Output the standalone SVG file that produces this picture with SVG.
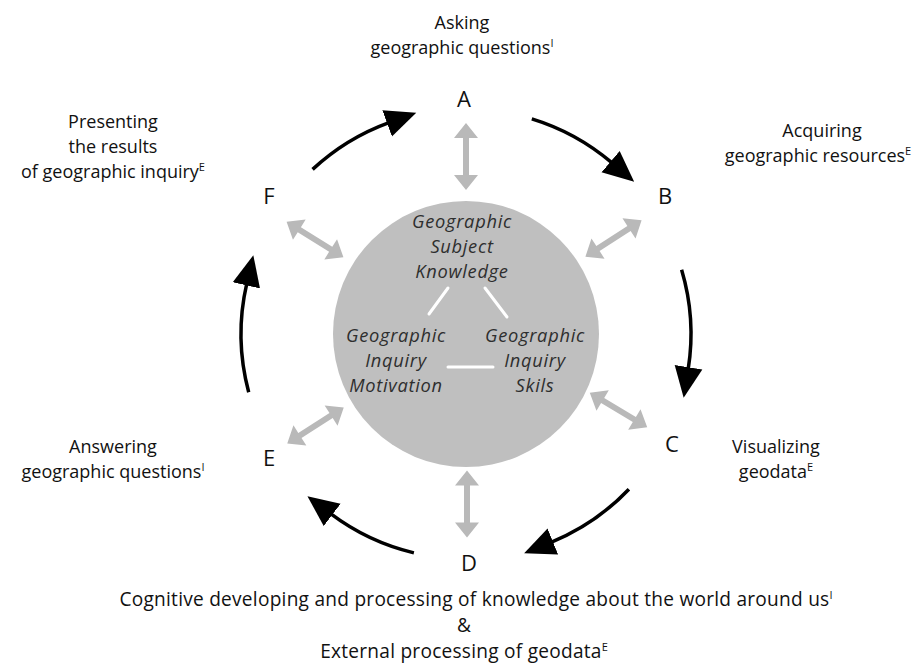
<svg xmlns="http://www.w3.org/2000/svg" xmlns:xlink="http://www.w3.org/1999/xlink" width="924" height="665" viewBox="0 0 924 665">
<defs>
<style>
.lbl{font-family:"Open Sans","Noto Sans","Liberation Sans",sans-serif;font-size:18px;fill:#111;text-anchor:middle}
.big{font-size:19.1px;letter-spacing:0.25px}
.let{font-family:"Open Sans","Noto Sans","Liberation Sans",sans-serif;font-size:22px;fill:#111;text-anchor:middle}
.in{font-family:"Open Sans","Noto Sans","Liberation Sans",sans-serif;font-size:18.3px;letter-spacing:0.7px;font-style:italic;fill:#2e2e2e;text-anchor:middle}
.sup{font-size:11px;letter-spacing:0}
.arc{fill:none;stroke:#000;stroke-width:3.5;marker-end:url(#ah)}
.dbl{fill:#b9b9b9}
.wl{stroke:#fff;stroke-width:3;stroke-linecap:round}
</style>
<marker id="ah" markerUnits="userSpaceOnUse" markerWidth="32" markerHeight="30" viewBox="0 0 32 30" refX="2" refY="15" orient="auto">
<path d="M0,1 L31,15 L0,29 Z" fill="#000"/>
</marker>
<path id="dbl" d="M-33.5,0 L-18.5,-12 L-18.5,-3 L18.5,-3 L18.5,-12 L33.5,0 L18.5,12 L18.5,3 L-18.5,3 L-18.5,12 Z"/>
</defs>
<rect width="924" height="665" fill="#fff"/>

<g id="core">
<circle cx="466" cy="334" r="133" fill="#bfbfbf"/>
<text class="in" x="462" y="228">Geographic</text>
<text class="in" x="462" y="253">Subject</text>
<text class="in" x="462" y="278">Knowledge</text>
<text class="in" x="396" y="342">Geographic</text>
<text class="in" x="396" y="367">Inquiry</text>
<text class="in" x="396" y="392">Motivation</text>
<text class="in" x="535" y="342">Geographic</text>
<text class="in" x="535" y="367">Inquiry</text>
<text class="in" x="535" y="392">Skils</text>
<line class="wl" x1="448" y1="288" x2="429" y2="314"/>
<line class="wl" x1="485" y1="288" x2="507" y2="317"/>
<line class="wl" x1="448" y1="367" x2="493" y2="367"/>
</g>

<g id="nodeA">
<text class="let" x="464" y="107">A</text>
<text class="lbl" x="462" y="29">Asking</text>
<text class="lbl" x="462" y="54">geographic questions<tspan class="sup" dy="-7">I</tspan></text>
</g>
<g id="nodeB">
<text class="let" x="665" y="204">B</text>
<text class="lbl" x="822" y="137">Acquiring</text>
<text class="lbl" x="818" y="162">geographic resources<tspan class="sup" dy="-7">E</tspan></text>
</g>
<g id="nodeC">
<text class="let" x="672" y="452">C</text>
<text class="lbl" x="776" y="453">Visualizing</text>
<text class="lbl" x="776" y="478">geodata<tspan class="sup" dy="-7">E</tspan></text>
</g>
<g id="nodeD">
<text class="let" x="469" y="571">D</text>
<text class="lbl big" x="476" y="606">Cognitive developing and processing of knowledge about the world around us<tspan class="sup" dy="-7">I</tspan></text>
<text class="lbl big" x="464" y="632">&amp;</text>
<text class="lbl big" x="464" y="658">External processing of geodata<tspan class="sup" dy="-7">E</tspan></text>
</g>
<g id="nodeE">
<text class="let" x="269" y="466">E</text>
<text class="lbl" x="113" y="453">Answering</text>
<text class="lbl" x="113" y="478">geographic questions<tspan class="sup" dy="-7">I</tspan></text>
</g>
<g id="nodeF">
<text class="let" x="269" y="204">F</text>
<text class="lbl" x="113" y="128">Presenting</text>
<text class="lbl" x="113" y="153">the results</text>
<text class="lbl" x="113" y="178">of geographic inquiry<tspan class="sup" dy="-7">E</tspan></text>
</g>

<g id="connectors">
<path class="arc" d="M531.8,118.8 A225,225 0 0 1 612.1,162.9"/>
<path class="arc" d="M681.6,269.7 A225,225 0 0 1 688.2,369.2"/>
<path class="arc" d="M628.9,489.2 A225,225 0 0 1 551.0,542.3"/>
<path class="arc" d="M413.9,552.9 A225,225 0 0 1 330.6,513.7"/>
<path class="arc" d="M248.7,392.2 A225,225 0 0 1 246.8,283.4"/>
<path class="arc" d="M312.6,169.4 A225,225 0 0 1 389.0,122.6"/>
<use class="dbl" href="#dbl" transform="translate(466,156.5) rotate(90)"/>
<use class="dbl" href="#dbl" transform="translate(613.5,238.5) rotate(-33)"/>
<use class="dbl" href="#dbl" transform="translate(618.5,410) rotate(31)"/>
<use class="dbl" href="#dbl" transform="translate(467,504) rotate(90)"/>
<use class="dbl" href="#dbl" transform="translate(315.5,425.5) rotate(-32.5)"/>
<use class="dbl" href="#dbl" transform="translate(315,239.5) rotate(32)"/>
</g>
</svg>
